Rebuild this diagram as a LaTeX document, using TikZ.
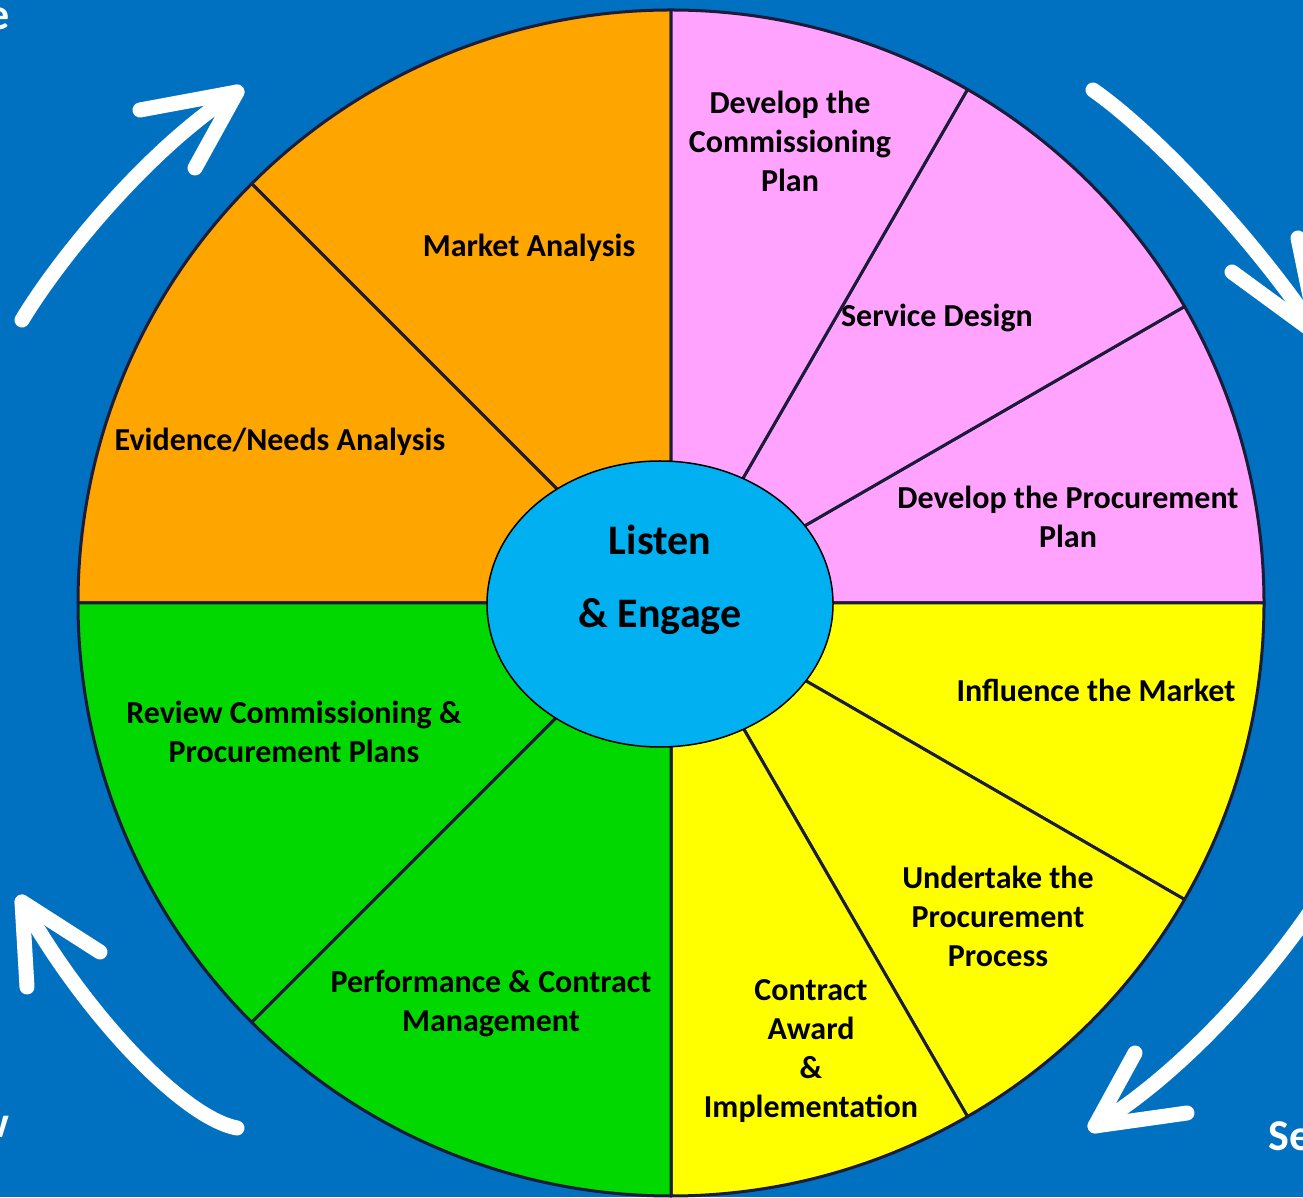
\documentclass[tikz,border=0pt]{standalone}
\usepackage{fontspec}
\setmainfont{Carlito}
\usetikzlibrary{shapes.geometric}
\definecolor{bgblue}{HTML}{0070C0}
\definecolor{segorange}{HTML}{FFA500}
\definecolor{segpink}{HTML}{FFA3FF}
\definecolor{segyellow}{HTML}{FFFF00}
\definecolor{seggreen}{HTML}{00D800}
\definecolor{hubblue}{HTML}{00B0F0}
\definecolor{divider}{HTML}{1B1B3A}
\tikzset{
  seg/.style={draw=divider,line width=3pt,line join=round},
  lbl/.style={font=\bfseries\fontsize{32}{39}\selectfont,align=center,text=black,inner sep=0pt},
  hubtxt/.style={font=\bfseries\fontsize{42}{48}\selectfont,text=black,inner sep=0pt},
  corner/.style={font=\bfseries\fontsize{44}{50}\selectfont,text=white,inner sep=0pt},
  shaft/.style={draw=white,line width=15pt,line cap=round},
  head/.style={draw=white,line width=15pt,line cap=round,line join=round},
}
\begin{document}
\begin{tikzpicture}[x=1pt,y=1pt]
\useasboundingbox (0,0) rectangle (1303,1197);
\fill[bgblue] (0,0) rectangle (1303,1197);
\coordinate (C) at (671,594);
% sectors
\filldraw[seg,fill=segorange] (C) -- ++(90:593pt) arc[start angle=90,end angle=135,radius=593pt] -- cycle;
\filldraw[seg,fill=segorange] (C) -- ++(135:593pt) arc[start angle=135,end angle=180,radius=593pt] -- cycle;
\filldraw[seg,fill=segpink] (C) -- ++(0:593pt) arc[start angle=0,end angle=30,radius=593pt] -- cycle;
\filldraw[seg,fill=segpink] (C) -- ++(30:593pt) arc[start angle=30,end angle=60,radius=593pt] -- cycle;
\filldraw[seg,fill=segpink] (C) -- ++(60:593pt) arc[start angle=60,end angle=90,radius=593pt] -- cycle;
\filldraw[seg,fill=segyellow] (C) -- ++(-30:593pt) arc[start angle=-30,end angle=0,radius=593pt] -- cycle;
\filldraw[seg,fill=segyellow] (C) -- ++(-60:593pt) arc[start angle=-60,end angle=-30,radius=593pt] -- cycle;
\filldraw[seg,fill=segyellow] (C) -- ++(-90:593pt) arc[start angle=-90,end angle=-60,radius=593pt] -- cycle;
\filldraw[seg,fill=seggreen] (C) -- ++(180:593pt) arc[start angle=180,end angle=225,radius=593pt] -- cycle;
\filldraw[seg,fill=seggreen] (C) -- ++(225:593pt) arc[start angle=225,end angle=270,radius=593pt] -- cycle;
% hub
\node[ellipse,draw=black,line width=1.5pt,fill=hubblue,minimum width=346pt,minimum height=286pt,inner sep=0pt] (hub) at (660,593) {};
\node[hubtxt] (listen) at (660,657) {Listen};
\node[hubtxt] (engage) at (660,580) {\& Engage};
% labels
\node[lbl] (dcp) at (790,1056) {Develop the\\Commissioning\\Plan};
\node[lbl] (ma) at (529,949) {Market Analysis};
\node[lbl] (ena) at (280,755) {Evidence/Needs Analysis};
\node[lbl] (sd) at (937,879) {Service Design};
\node[lbl] (dpp) at (1068,680.5) {Develop the Procurement\\Plan};
\node[lbl] (itm) at (1096,507) {Influence the Market};
\node[lbl] (utp) at (998,281) {Undertake the\\Procurement\\Process};
\node[lbl] (cai) at (811,145.5) {Contract\\Award\\\&\\Implementation};
\node[lbl] (pcm) at (491,193.5) {Performance \& Contract\\Management};
\node[lbl] (rcp) at (294,465.5) {Review Commissioning \&\\Procurement Plans};
% arrows
\coordinate (tlS) at (22,877); \coordinate (tlT) at (237,1105);
\coordinate (tlA) at (140,1087); \coordinate (tlB) at (195,1029);
\draw[shaft] (tlS) .. controls (60,940) and (150,1050) .. (tlT);
\draw[head] (tlA) -- (tlT) -- (tlB);
\coordinate (trS) at (1093,1107); \coordinate (trT) at (1318,862);
\coordinate (trA) at (1232,925); \coordinate (trB) at (1298,959);
\draw[shaft] (trS) .. controls (1160,1060) and (1260,950) .. (trT);
\draw[head] (trA) -- (trT) -- (trB);
\coordinate (blS) at (237,69); \coordinate (blT) at (22,295);
\coordinate (blA) at (27,210); \coordinate (blB) at (100,245);
\draw[shaft] (blS) .. controls (180,80) and (80,190) .. (blT);
\draw[head] (blA) -- (blT) -- (blB);
\coordinate (brS) at (1320,300); \coordinate (brT) at (1095,71);
\coordinate (brA) at (1135,144); \coordinate (brB) at (1187,84);
\draw[shaft] (brS) .. controls (1275,230) and (1185,125) .. (brT);
\draw[head] (brA) -- (brT) -- (brB);
% corner texts (cut by the picture's edge, as in the reference)
\node[corner,anchor=base east] (ce) at (10,1167) {e};
\node[corner,anchor=base east] (cw) at (9,60) {w};
\node[corner,anchor=base west] (cse) at (1268,47) {Se};
\end{tikzpicture}
\end{document}
